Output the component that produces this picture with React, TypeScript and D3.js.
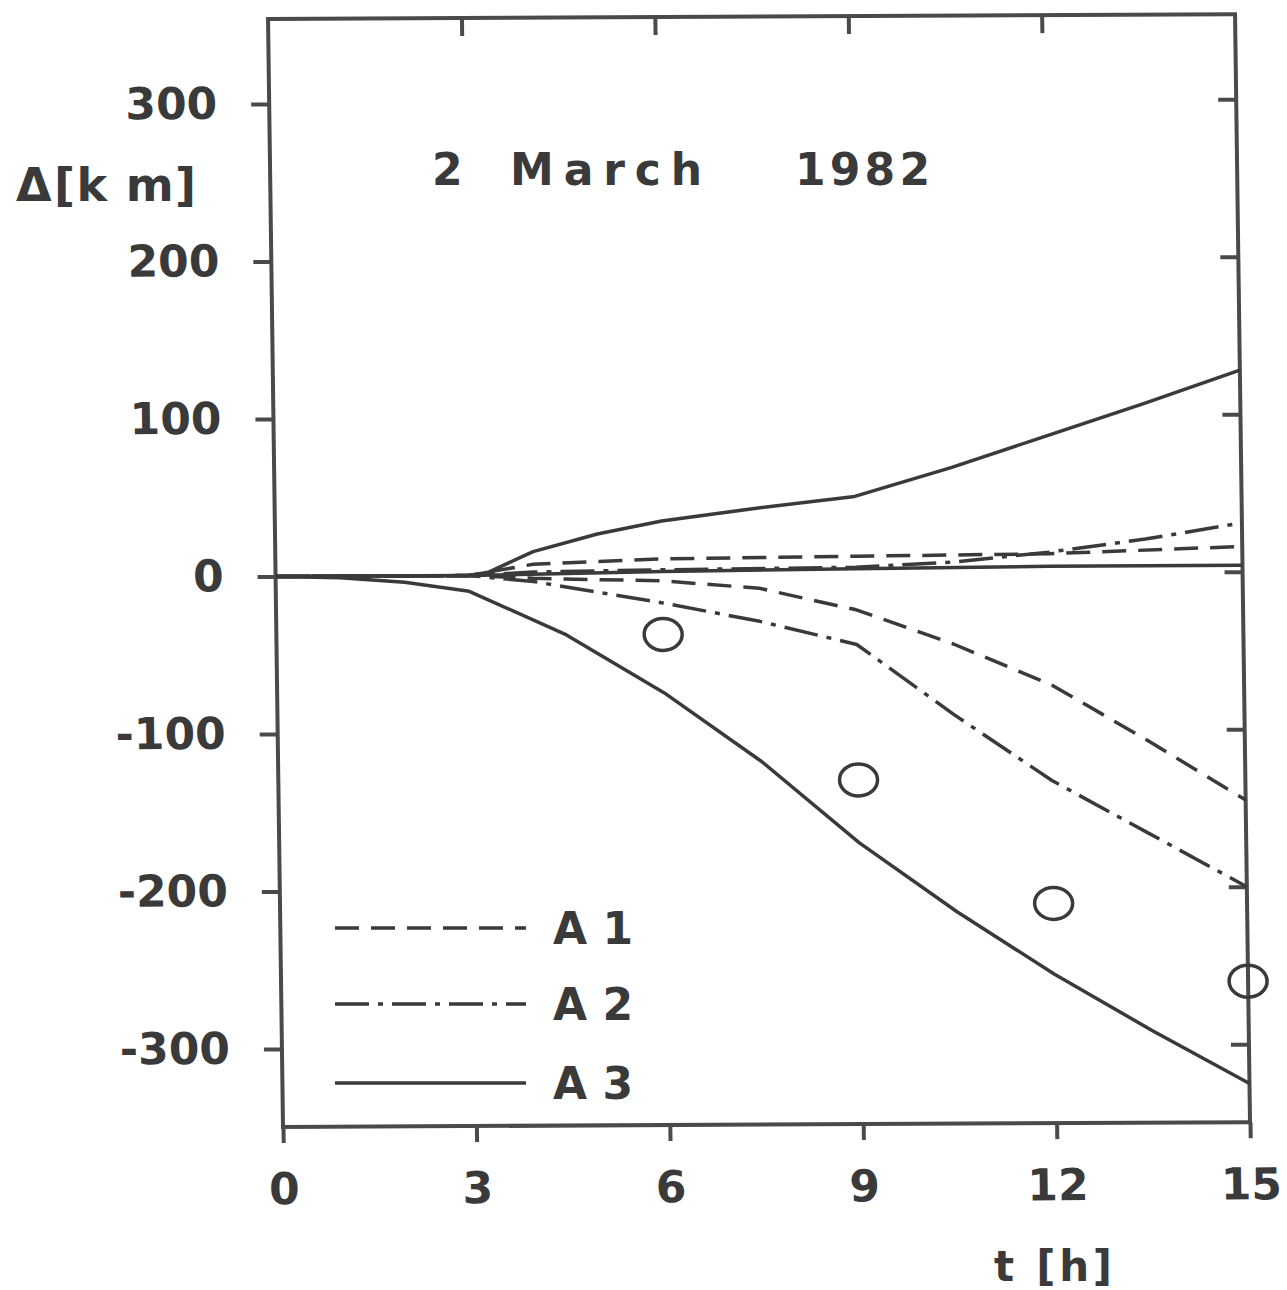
import React, { useEffect, useRef } from 'react';
import * as d3 from 'd3';

const hourTicks = [0, 3, 6, 9, 12, 15];
const kmTicks = [-300, -200, -100, 0, 100, 200, 300];

// [t (h), Δ (km)]
const a1Upper = [[0, 0], [3, 0], [4, 7], [6, 10], [9, 11], [12, 12], [15, 16]];
const a1Lower = [[0, 0], [3, 0], [4, -2], [6, -4], [7.5, -9], [9, -23], [10.5, -45], [12, -71], [13.5, -107], [15, -145]];
const a2Upper = [[0, 0], [3, 0], [4, 2], [6, 3], [9, 4], [10.5, 7], [12, 13], [13.5, 21], [15, 31]];
const a2Lower = [[0, 0], [3, 0], [4, -4], [6, -18], [7.5, -30], [9, -45], [10.5, -90], [12, -132], [13.5, -166], [15, -200]];
const a3Upper = [[0, 0], [3, 0], [3.3, 2], [4, 15], [5, 26], [6, 34], [7.5, 42], [9, 49], [10.5, 67], [12, 87], [13.5, 107], [15, 128]];
const a3Middle = [[0, 0], [3, 0], [6, 2], [9, 3], [12, 4], [15, 4]];
const a3Lower = [[0, 0], [1, -1], [2, -4], [3, -10], [4.5, -38], [6, -75], [7.5, -119], [9, -171], [10.5, -215], [12, -255], [13.5, -291], [15, -325]];
const observed = [[6, -38], [9, -131], [12, -210], [15, -260]];

const seriesNames = ['A 1', 'A 2', 'A 3'];

const INK = '#3a3a3a';
const FONT = '"DejaVu Sans", sans-serif';
const DASH = '24 12';
const DASHDOT = '34 9 5 9';

const App = () => {
  const svgRef = useRef<SVGSVGElement>(null);

  useEffect(() => {
    const svg = d3.select(svgRef.current);
    svg.selectAll('*').remove();

    const x = d3.scaleLinear().domain([0, 15]).range([283, 1250]);
    const y = d3.scaleLinear().domain([-300, 300]).range([1049, 104]);
    const top = 19;
    const bottom = 1127;

    // the scanned frame is slightly sheared
    const g = svg.append('g')
      .attr('transform', `translate(283,${bottom}) matrix(1,-0.005,0.0135,1,0,0) translate(-283,-${bottom})`);

    g.append('rect')
      .attr('x', x(0))
      .attr('y', top)
      .attr('width', x(15) - x(0))
      .attr('height', bottom - top)
      .attr('fill', 'none')
      .attr('stroke', '#4a4a4a')
      .attr('stroke-width', 4);

    const styleAxis = (sel) => {
      sel.select('.domain').remove();
      sel.selectAll('line').attr('stroke', '#4a4a4a').attr('stroke-width', 4);
      sel.attr('font-size', 44).attr('font-family', FONT).attr('font-weight', 'bold');
      sel.selectAll('text').attr('fill', INK);
    };

    g.append('g')
      .attr('transform', `translate(${x(0)},0)`)
      .call(d3.axisLeft(y).tickValues(kmTicks).tickSize(18).tickSizeOuter(0).tickPadding(34).tickFormat((d) => String(d)))
      .call(styleAxis);

    g.append('g')
      .attr('transform', `translate(${x(15)},0)`)
      .call(d3.axisRight(y).tickValues(kmTicks).tickSize(-18).tickSizeOuter(0).tickFormat(() => ''))
      .call(styleAxis);

    g.append('g')
      .attr('transform', `translate(0,${bottom})`)
      .call(d3.axisBottom(x).tickValues(hourTicks).tickSize(16).tickSizeOuter(0).tickPadding(30).tickFormat((d) => String(d)))
      .call(styleAxis);

    g.append('g')
      .attr('transform', `translate(0,${top})`)
      .call(d3.axisTop(x).tickValues(hourTicks.slice(1, -1)).tickSize(-18).tickSizeOuter(0).tickFormat(() => ''))
      .call(styleAxis);

    const line = d3.line().x((d) => x(d[0])).y((d) => y(d[1]));

    const curves = [
      { data: a1Upper, dash: DASH },
      { data: a1Lower, dash: DASH },
      { data: a2Upper, dash: DASHDOT },
      { data: a2Lower, dash: DASHDOT },
      { data: a3Upper, dash: null },
      { data: a3Middle, dash: null },
      { data: a3Lower, dash: null },
    ];

    g.selectAll('.curve')
      .data(curves)
      .enter()
      .append('path')
      .attr('class', 'curve')
      .attr('d', (d) => line(d.data))
      .attr('fill', 'none')
      .attr('stroke', INK)
      .attr('stroke-width', 3.5)
      .attr('stroke-linejoin', 'round')
      .attr('stroke-dasharray', (d) => d.dash);

    g.selectAll('.obs')
      .data(observed)
      .enter()
      .append('ellipse')
      .attr('class', 'obs')
      .attr('cx', (d) => x(d[0]))
      .attr('cy', (d) => y(d[1]))
      .attr('rx', 19)
      .attr('ry', 16)
      .attr('fill', 'none')
      .attr('stroke', INK)
      .attr('stroke-width', 3.5);

    // legend
    const legendY = [928, 1004, 1083];
    const legendDash = [DASH, DASHDOT, null];
    const leg = svg.append('g');
    seriesNames.forEach((name, i) => {
      leg.append('line')
        .attr('x1', 335).attr('x2', 526)
        .attr('y1', legendY[i]).attr('y2', legendY[i])
        .attr('stroke', INK)
        .attr('stroke-width', 3.5)
        .attr('stroke-dasharray', legendDash[i]);
      leg.append('text')
        .attr('x', 553)
        .attr('y', legendY[i] + 16)
        .attr('font-size', 44)
        .attr('font-family', FONT)
        .attr('font-weight', 'bold')
        .attr('fill', INK)
        .attr('textLength', 80)
        .attr('lengthAdjust', 'spacing')
        .text(name);
    });

    // title
    const title = [
      { s: '2', x: 432, w: 30 },
      { s: 'March', x: 510, w: 192 },
      { s: '1982', x: 795, w: 135 },
    ];
    title.forEach((t) => {
      svg.append('text')
        .attr('x', t.x)
        .attr('y', 185)
        .attr('font-size', 44)
        .attr('font-family', FONT)
        .attr('font-weight', 'bold')
        .attr('fill', INK)
        .attr('textLength', t.w)
        .attr('lengthAdjust', 'spacing')
        .text(t.s);
    });

    // axis titles
    svg.append('text')
      .attr('x', 16).attr('y', 201)
      .attr('font-size', 46).attr('font-family', FONT).attr('font-weight', 'bold').attr('fill', INK)
      .text('Δ');
    svg.append('text')
      .attr('x', 54).attr('y', 201)
      .attr('font-size', 46).attr('font-family', FONT).attr('font-weight', 'bold').attr('fill', INK)
      .attr('textLength', 142).attr('lengthAdjust', 'spacing')
      .text('[k m]');
    svg.append('text')
      .attr('x', 994).attr('y', 1281)
      .attr('font-size', 42).attr('font-family', FONT).attr('font-weight', 'bold').attr('fill', INK)
      .attr('textLength', 118).attr('lengthAdjust', 'spacing')
      .text('t [h]');
  }, []);

  return (
    <svg
      ref={svgRef}
      width={1287}
      height={1290}
      style={{ position: 'absolute', left: 0, top: 0, background: '#fff' }}
    />
  );
};

export default App;
